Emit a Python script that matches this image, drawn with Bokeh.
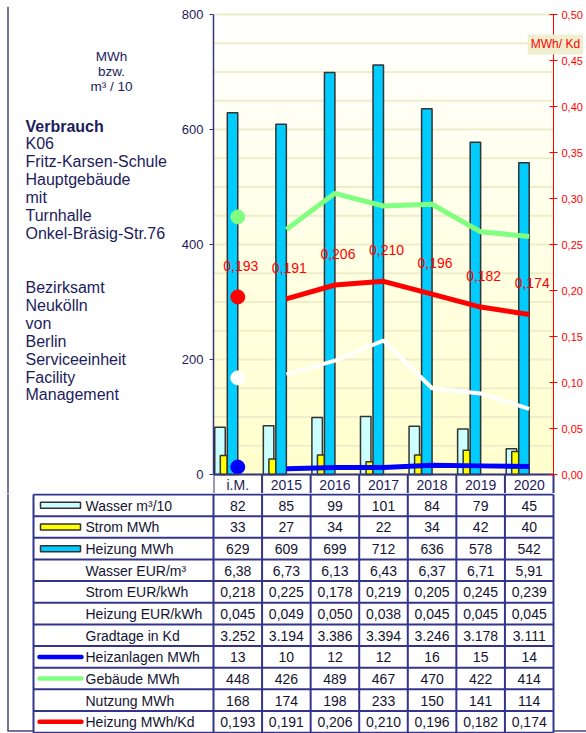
from bokeh.plotting import figure
from bokeh.models import Range1d, LinearAxis, FixedTicker, CustomJSTickFormatter, Label, ColumnDataSource
from bokeh.layouts import column, row
from bokeh.embed import file_html
from bokeh.resources import INLINE
from bokeh.core.properties import value
from bokeh.transform import dodge

# ---------------- data ----------------
categories = ["i.M.", "2015", "2016", "2017", "2018", "2019", "2020"]
wasser = [82, 85, 99, 101, 84, 79, 45]            # m³/10
strom = [33, 27, 34, 22, 34, 42, 40]              # MWh
heizung = [629, 609, 699, 712, 636, 578, 542]     # MWh
wasser_eur = [6.38, 6.73, 6.13, 6.43, 6.37, 6.71, 5.91]
strom_eur = [0.218, 0.225, 0.178, 0.219, 0.205, 0.245, 0.239]
heizung_eur = [0.045, 0.049, 0.050, 0.038, 0.045, 0.045, 0.045]
gradtage = [3252, 3194, 3386, 3394, 3246, 3178, 3111]
heizanlagen = [13, 10, 12, 12, 16, 15, 14]
gebaeude = [448, 426, 489, 467, 470, 422, 414]
nutzung = [168, 174, 198, 233, 150, 141, 114]
heizung_kd = [0.193, 0.191, 0.206, 0.210, 0.196, 0.182, 0.174]

left_ticks = [0, 200, 400, 600, 800]
grid_ticks = [0, 50, 100, 150, 200, 250, 300, 350, 400, 450, 500, 550, 600, 650, 700, 750, 800]
right_ticks = [0.0, 0.05, 0.10, 0.15, 0.20, 0.25, 0.30, 0.35, 0.40, 0.45, 0.50]

unit_lines = ["MWh", "bzw.", "m³ / 10"]
title_bold = "Verbrauch"
title_lines = ["K06", "Fritz-Karsen-Schule", "Hauptgebäude", "mit", "Turnhalle", "Onkel-Bräsig-Str.76"]
org_lines = ["Bezirksamt", "Neukölln", "von", "Berlin", "Serviceeinheit", "Facility", "Management"]

row_labels = ["Wasser m³/10", "Strom MWh", "Heizung MWh", "Wasser EUR/m³", "Strom EUR/kWh",
              "Heizung EUR/kWh", "Gradtage in Kd", "Heizanlagen MWh", "Gebäude MWh",
              "Nutzung MWh", "Heizung MWh/Kd"]

# ---------------- style ----------------
FONT = "Liberation Sans"
NAVY_TXT = "#1c1c5c"
AXIS_NAVY = "#35357f"
TABLE_LINE = "#34348c"
FRAME = "#45457a"
C_WASSER = "#ccffff"
C_STROM = "#ffff00"
C_HEIZ = "#00ccff"
C_BLUE = "#0000ff"
C_GREEN = "#80ff80"
C_WHITE = "#ffffff"
C_RED = "#ff0000"

W = 586
PX_PER_UNIT = 0.575          # pixels per MWh on the left axis
CW = 340 / 7                 # pixels per category


def comma(v, d):
    return f"{v:.{d}f}".replace(".", ",")


def thousands(v):
    return f"{v:,}".replace(",", ".")


# ---------------- top frame line ----------------
top = figure(width=W, height=6, x_range=Range1d(0, W), y_range=Range1d(6, 0),
             toolbar_location=None, output_backend="svg", min_border=0,
             x_axis_location=None, y_axis_location=None)
top.grid.visible = False
top.outline_line_color = None
top.segment(x0=[7], y0=[5.5], x1=[W], y1=[5.5], line_color=FRAME, line_width=1.5)

# ---------------- left text panel (page coordinates) ----------------
RH_TOP = 487
tf = figure(width=178, height=RH_TOP, x_range=Range1d(0, 178), y_range=Range1d(493, 6),
            toolbar_location=None, output_backend="svg", min_border=0,
            x_axis_location=None, y_axis_location=None)
tf.grid.visible = False
tf.outline_line_color = None
tf.text(x=[111] * 3, y=[56, 71, 86], text=unit_lines, text_align="center",
        text_baseline="middle", text_font=value(FONT), text_font_size="13.5px",
        text_color=NAVY_TXT)
tf.text(x=[25], y=[126], text=[title_bold], text_align="left", text_baseline="middle",
        text_font=value(FONT), text_font_size="16px", text_font_style="bold",
        text_color=NAVY_TXT)
tf.text(x=[25] * len(title_lines), y=[143 + 18 * i for i in range(len(title_lines))],
        text=title_lines, text_align="left", text_baseline="middle",
        text_font=value(FONT), text_font_size="16px", text_color=NAVY_TXT)
tf.text(x=[25] * len(org_lines), y=[287 + 17.9 * i for i in range(len(org_lines))],
        text=org_lines, text_align="left", text_baseline="middle",
        text_font=value(FONT), text_font_size="16px", text_color=NAVY_TXT)
tf.segment(x0=[7.5], y0=[6], x1=[7.5], y1=[493], line_color=FRAME, line_width=1.5)

# ---------------- chart ----------------
n = len(categories)
xs = [i + 0.5 for i in range(n)]
src = ColumnDataSource(dict(x=xs, wasser=wasser, strom=strom, heizung=heizung))

y_top = 800 + 8 / PX_PER_UNIT        # frame reaches 8 px above the 800 line
y_bot = -19 / PX_PER_UNIT            # and includes the 19 px category row
x_end = n + 33 / CW                  # frame runs on to the page edge
p = figure(width=W - 178, height=RH_TOP, x_range=Range1d(0, x_end),
           y_range=Range1d(y_bot, y_top), toolbar_location=None, output_backend="svg",
           min_border_left=35, min_border_right=0, min_border_top=0, min_border_bottom=0,
           x_axis_location=None, y_axis_location=None)
p.xgrid.visible = False
p.ygrid.visible = False
p.outline_line_color = None
p.background_fill_color = "#ffffff"
p.extra_y_ranges = {"r": Range1d(y_bot / 1600, y_top / 1600)}

# background gradient (white top -> light yellow bottom)
nb = 40
edges = [800 * i / nb for i in range(nb + 1)]
bg_cols = []
for i in range(nb):
    t = (i + 0.5) / nb
    b = int(round(204 + (255 - 204) * t))
    bg_cols.append("#ffff%02x" % b)
bg = p.quad(left=0, right=n, bottom=edges[:-1], top=edges[1:], fill_color=bg_cols,
            line_color=None)
bg.level = "image"

# horizontal grid lines (only across the plot area)
p.segment(x0=[0] * len(grid_ticks), y0=grid_ticks, x1=[n] * len(grid_ticks), y1=grid_ticks,
          line_color="#eeeecb", line_width=2)

# bars
p.vbar(x=dodge("x", -0.366), top="wasser", width=0.216, source=src,
       fill_color=C_WASSER, line_color="#333333", line_width=1.5)
p.vbar(x=dodge("x", -0.288), top="strom", width=0.144, source=src,
       fill_color=C_STROM, line_color="#333333", line_width=1.5)
p.vbar(x=dodge("x", -0.108), top="heizung", width=0.216, source=src,
       fill_color=C_HEIZ, line_color="#333333", line_width=1.5)

# lines (i.M. shown as a single dot)
p.line(xs[1:], nutzung[1:], line_color=C_WHITE, line_width=4)
p.scatter([xs[0]], [nutzung[0]], size=14, color=C_WHITE)
p.line(xs[1:], gebaeude[1:], line_color=C_GREEN, line_width=5)
p.scatter([xs[0]], [gebaeude[0]], size=14, color=C_GREEN)
p.line(xs[1:], heizanlagen[1:], line_color=C_BLUE, line_width=5)
p.scatter([xs[0]], [heizanlagen[0]], size=14, color=C_BLUE)
p.line(xs[1:], heizung_kd[1:], y_range_name="r", line_color=C_RED, line_width=5)
p.scatter([xs[0]], [heizung_kd[0]], y_range_name="r", size=14, color=C_RED)

p.text(x=xs, y=heizung_kd, text=[comma(v, 3) for v in heizung_kd], y_range_name="r",
       text_align="center", text_baseline="middle", x_offset=3, y_offset=-31,
       text_color=C_RED, text_font=value(FONT), text_font_size="14px")

# category row dividers
bounds_x = list(range(n + 1))
p.segment(x0=bounds_x, y0=[0] * (n + 1), x1=bounds_x, y1=[y_bot] * (n + 1),
          line_color=AXIS_NAVY, line_width=2)

# axes
yl = LinearAxis(ticker=FixedTicker(ticks=left_ticks), bounds=(0, 800),
                axis_line_color=AXIS_NAVY, axis_line_width=1.5, major_tick_out=4,
                major_tick_in=0, major_tick_line_color=AXIS_NAVY, minor_tick_line_color=None,
                major_label_text_font=FONT, major_label_text_font_size="13px",
                major_label_text_color=NAVY_TXT, major_label_standoff=6)
p.add_layout(yl, "left")

yr = LinearAxis(y_range_name="r", fixed_location=n, bounds=(0, 0.5),
                ticker=FixedTicker(ticks=right_ticks),
                formatter=CustomJSTickFormatter(code="return tick.toFixed(2).replace('.', ',');"),
                axis_line_color=C_RED, axis_line_width=1, major_tick_in=4, major_tick_out=4,
                major_tick_line_color=C_RED, minor_tick_line_color=None,
                major_label_text_color=C_RED, major_label_text_font=FONT,
                major_label_text_font_size="11px", major_label_standoff=4)
p.add_layout(yr, "right")

xa = LinearAxis(fixed_location=0, bounds=(0, n), ticker=FixedTicker(ticks=xs),
                formatter=CustomJSTickFormatter(args=dict(labels=categories),
                                                code="return labels[Math.round(tick - 0.5)];"),
                major_tick_in=0, major_tick_out=0, minor_tick_line_color=None,
                axis_line_color=AXIS_NAVY, axis_line_width=2,
                major_label_text_font=FONT, major_label_text_font_size="14px",
                major_label_text_color=NAVY_TXT, major_label_standoff=2)
p.add_layout(xa, "below")

p.add_layout(Label(x=6.47, y=0.4674, y_range_name="r", text="MWh/ Kd", text_color=C_RED,
                   text_font=FONT, text_font_size="12px", text_baseline="middle",
                   background_fill_color="#efefcf", padding=3))

# ---------------- table (page coordinates) ----------------
T0 = 493
TBH = 733 - T0
C0 = 213.0
LX0 = 33.0
RH = 21.65
Y0 = T0 + 1.0
nrows = len(row_labels)

tb = figure(width=W, height=TBH, x_range=Range1d(0, W), y_range=Range1d(733, T0),
            toolbar_location=None, output_backend="svg", min_border=0,
            x_axis_location=None, y_axis_location=None)
tb.grid.visible = False
tb.outline_line_color = None

table_vals = [
    [str(v) for v in wasser],
    [str(v) for v in strom],
    [str(v) for v in heizung],
    [comma(v, 2) for v in wasser_eur],
    [comma(v, 3) for v in strom_eur],
    [comma(v, 3) for v in heizung_eur],
    [thousands(v) for v in gradtage],
    [str(v) for v in heizanlagen],
    [str(v) for v in gebaeude],
    [str(v) for v in nutzung],
    [comma(v, 3) for v in heizung_kd],
]

tx, ty, tt = [], [], []
for i, vals in enumerate(table_vals):
    for j, s in enumerate(vals):
        tx.append(C0 + CW * (j + 0.5))
        ty.append(Y0 + RH * (i + 0.5) + 0.5)
        tt.append(s)
tb.text(x=tx, y=ty, text=tt, text_align="center", text_baseline="middle",
        text_font=value(FONT), text_font_size="14px", text_color="#141432")
tb.text(x=[85] * nrows, y=[Y0 + RH * (i + 0.5) + 0.5 for i in range(nrows)], text=row_labels,
        text_align="left", text_baseline="middle", text_font=value(FONT),
        text_font_size="14px", text_color="#141432")

# legend swatches
sw_rows = [0, 1, 2]
sw_cols = [C_WASSER, C_STROM, C_HEIZ]
tb.quad(left=[40] * 3, right=[80] * 3,
        top=[Y0 + RH * (r + 0.5) - 3 for r in sw_rows],
        bottom=[Y0 + RH * (r + 0.5) + 3 for r in sw_rows],
        fill_color=sw_cols, line_color="#333333", line_width=1.5)
ln_rows = [7, 8, 10]
ln_cols = [C_BLUE, C_GREEN, C_RED]
for r, c in zip(ln_rows, ln_cols):
    yy = Y0 + RH * (r + 0.5)
    tb.segment(x0=[39], y0=[yy], x1=[81], y1=[yy], line_color=c, line_width=4.5,
               line_cap="round")

# grid lines
hx0, hy0, hx1, hy1 = [], [], [], []
for k in range(nrows + 1):
    yy = Y0 + RH * k
    hx0.append(LX0); hx1.append(C0 + CW * n); hy0.append(yy); hy1.append(yy)
vx = [LX0] + [C0 + CW * j for j in range(n + 1)]
for x in vx:
    hx0.append(x); hx1.append(x); hy0.append(Y0); hy1.append(Y0 + RH * nrows)
tb.segment(x0=hx0, y0=hy0, x1=hx1, y1=hy1, line_color=TABLE_LINE, line_width=2)

# outer frame
tb.segment(x0=[7.5, 7, C0 + CW * n], y0=[T0, 730.5, 730.5],
           x1=[7.5, LX0, W], y1=[730.5, 730.5, 730.5],
           line_color=FRAME, line_width=1.5)

layout = column(top, row(tf, p), tb)
open("out.html", "w").write(file_html(layout, INLINE))
